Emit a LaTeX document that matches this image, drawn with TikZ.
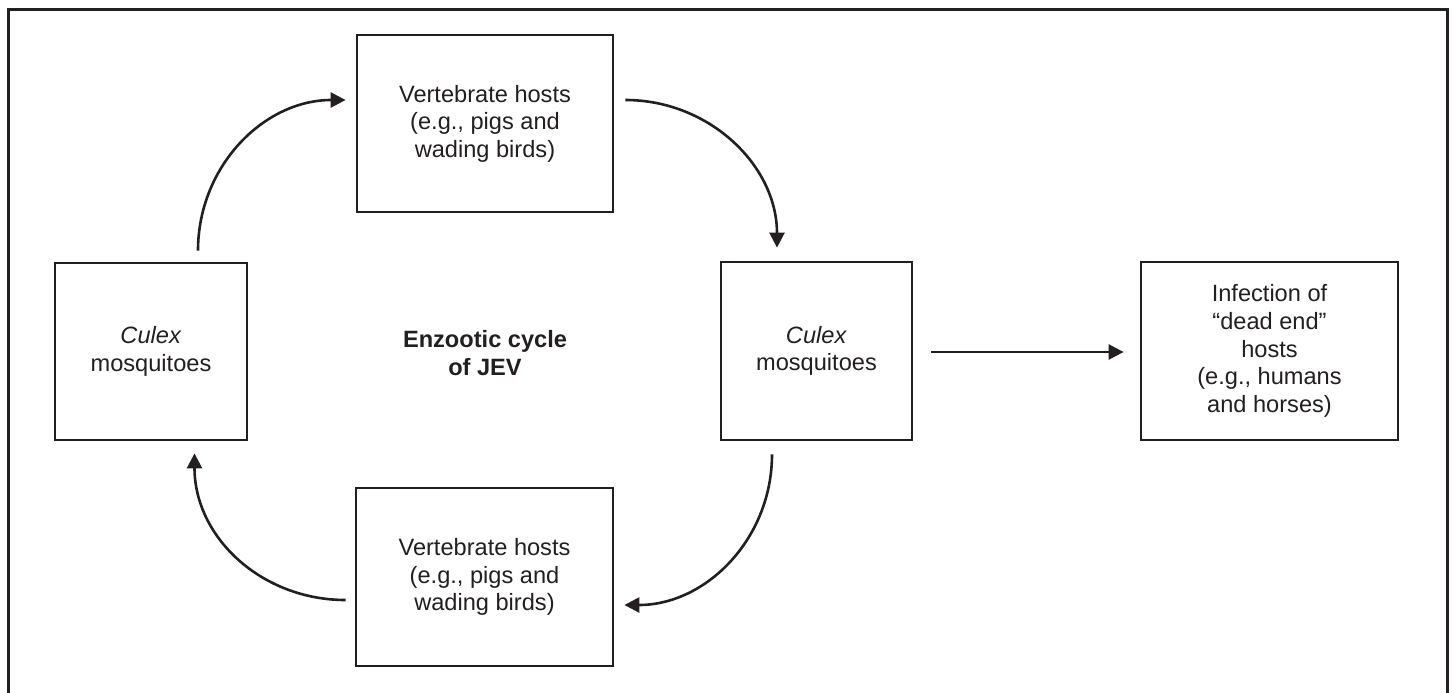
\documentclass[tikz,border=0pt]{standalone}
\usepackage{fontspec}
\setmainfont{Liberation Sans}
\usetikzlibrary{calc,arrows.meta}
\definecolor{ink}{HTML}{231F20}
\tikzset{
  box/.style={draw=ink, line width=1.4pt, inner sep=0pt, align=center, text=ink,
    font=\fontsize{11.8}{13.8}\selectfont},
  flow/.style={draw=ink, line width=1.3pt, -{Triangle[length=7.5pt,width=7.5pt]}},
}
\begin{document}
\begin{tikzpicture}[x=0.5pt,y=-0.5pt]
\clip (0,0) rectangle (1452,692);
\fill[white] (0,0) rectangle (1452,692);
\draw[ink, line width=1.5pt] (8,720) -- (8,9) -- (1447,9) -- (1447,720);

\node[box, minimum width=128pt, minimum height=88.5pt] (vh1) at (485,123.5)
  {Vertebrate hosts\\(e.g., pigs and\\wading birds)};
\node[box, minimum width=96pt, minimum height=88.5pt] (lc) at (151,351.5)
  {\textit{Culex}\\mosquitoes};
\node[box, minimum width=95.5pt, minimum height=89pt] (rc) at (816.5,351)
  {\textit{Culex}\\mosquitoes};
\node[box, minimum width=128.5pt, minimum height=89pt] (vh2) at (484.5,577)
  {Vertebrate hosts\\(e.g., pigs and\\wading birds)};
\node[box, minimum width=128.5pt, minimum height=89pt] (de) at (1269.5,351)
  {Infection of\\``dead end''\\hosts\\(e.g., humans\\and horses)};
\node[text=ink, align=center, font=\fontsize{11.8}{13.8}\selectfont\bfseries] (title) at (485,353)
  {Enzootic cycle\\of JEV};

\draw[flow] ($(lc.north)+(47,-11)$) .. controls +(0,-84) and +(-82,0) .. ($(vh1.west)+(-10,-23.5)$);
\draw[flow] ($(vh1.east)+(11,-23.5)$) .. controls +(84,0) and +(0,-82) .. ($(rc.north)+(-39.5,-13)$);
\draw[flow] ($(rc.south)+(-44.5,13)$) .. controls +(0,84) and +(82,0) .. ($(vh2.east)+(10,28)$);
\draw[flow] ($(vh2.west)+(-9,23)$) .. controls +(-84,0) and +(0,84) .. ($(lc.south)+(43.5,12)$);
\draw[flow] ($(rc.east)+(18,1)$) -- ($(de.west)+(-16,1)$);
\end{tikzpicture}
\end{document}
